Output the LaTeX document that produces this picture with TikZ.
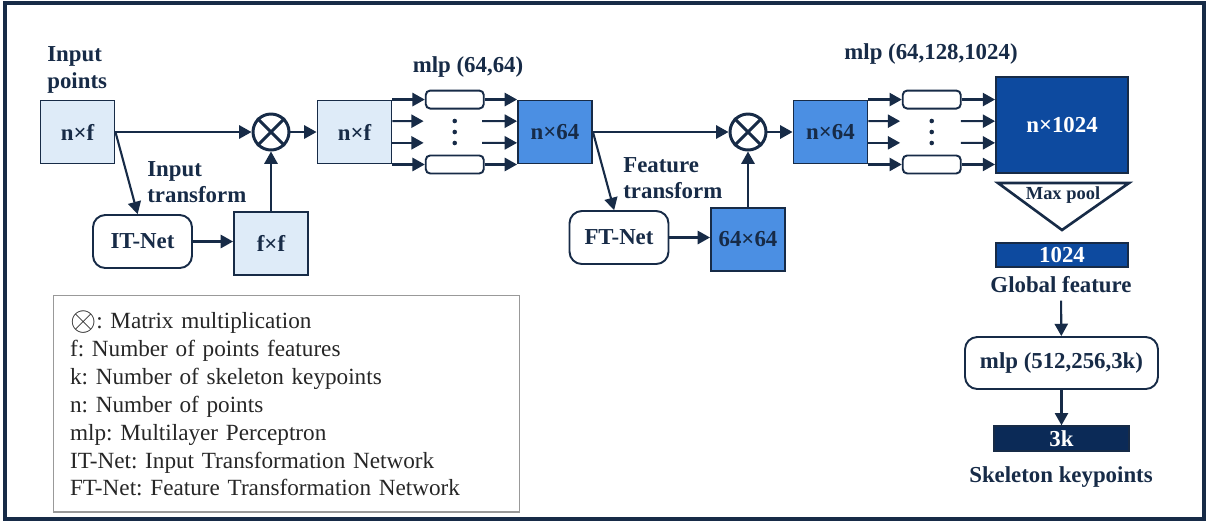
\documentclass[tikz,border=0pt]{standalone}
\usepackage{fontspec}
\setmainfont{Liberation Serif}[BoldFont={Liberation Serif Bold}]
\usetikzlibrary{arrows.meta,calc}
\definecolor{navy}{HTML}{172B47}
\definecolor{lightblue}{HTML}{DEEBF8}
\definecolor{midblue}{HTML}{4B8FE3}
\definecolor{darkblue}{HTML}{0D4A9F}
\definecolor{deepblue}{HTML}{0B2A57}
\frenchspacing

\begin{document}
\begin{tikzpicture}[x=0.02cm,y=-0.02cm,
    txt/.style={font=\bfseries\fontsize{13}{15}\selectfont, text=navy},
    lbl/.style={txt, inner sep=0pt, align=left},
    mat/.style={txt, draw=navy, line width=1.1pt, minimum width=1.48cm, minimum height=1.26cm, inner sep=0pt},
    net/.style={txt, draw=navy, line width=1.1pt, rounded corners=7pt, minimum width=1.98cm, minimum height=1.06cm},
    unit/.style={draw=navy, fill=white, line width=1.1pt, rounded corners=2.5pt, minimum width=1.16cm, minimum height=0.36cm, inner sep=0pt},
    mult/.style={circle, draw=navy, line width=1.7pt, minimum size=0.72cm, inner sep=0pt},
    vec/.style={txt, text=white, draw=navy, line width=0.8pt, minimum width=2.64cm, minimum height=0.48cm, inner sep=0pt},
    arr/.style={draw=navy, line width=1.2pt, -{Triangle[length=7pt,width=7.5pt]}}]
\useasboundingbox (0,0) rectangle (1211,529);
\draw[navy, line width=1.8pt] (5,3) rectangle (1204,519);

% input transform part
\node[lbl, anchor=west] (inlbl) at (47,70) {Input\\points};
\node[mat, fill=lightblue] (pts) at (77.5,132) {n×f};
\node[mult] (mul1) at (271,132) {};
\draw[navy, line width=1.7pt] (mul1.45) -- (mul1.225) (mul1.135) -- (mul1.315);
\node[mat, fill=lightblue] (nf) at (354.5,132) {n×f};
\node[net] (itnet) at (142.5,241.5) {IT-Net};
\node[mat, fill=lightblue] (ff) at (271,243.5) {f×f};
\node[lbl, anchor=west] (itlbl) at (147,182) {Input\\transform};
\draw[arr] (pts) -- (mul1);
\draw[arr] (mul1) -- (nf);
\draw[arr] (pts.east) -- (itnet.100);
\draw[arr] (itnet.east) -- (itnet.east -| ff.west);
\draw[arr] (ff) -- (mul1);

% first mlp
\node[lbl] (mlp1) at (468,67) {mlp (64,64)};
\node[mat, fill=midblue] (nsf) at (555,132) {n×64};
\foreach \t [count=\i] in {0,0.333,0.667,1} {
  \coordinate (a\i) at ($(nf.north east)!\t!(nf.south east)$);
  \coordinate (b\i) at (a\i -| nsf.west);
}
\foreach \i in {1,4} {
  \node[unit] (u\i) at ($(a\i)!0.5!(b\i)$) {};
  \draw[arr] (a\i) -- (u\i);
  \draw[arr] (u\i) -- (b\i);
}
\foreach \i in {2,3} {
  \coordinate (c\i) at ($(a\i)!0.25!(b\i)$);
  \coordinate (d\i) at ($(a\i)!0.72!(b\i)$);
  \draw[arr] (a\i) -- (c\i);
  \draw[arr] (d\i) -- (b\i);
}
\foreach \d in {-11,0,11} \fill[navy] ($(u1)!0.5!(u4)+(0,\d)$) circle (1.3pt);

% feature transform part
\node[mult] (mul2) at (748,132) {};
\draw[navy, line width=1.7pt] (mul2.45) -- (mul2.225) (mul2.135) -- (mul2.315);
\node[mat, fill=midblue] (nsf2) at (830.5,132) {n×64};
\node[net] (ftnet) at (619,237.5) {FT-Net};
\node[mat, fill=midblue] (tf) at (748,239.5) {64×64};
\node[lbl, anchor=west] (ftlbl) at (623,178) {Feature\\transform};
\draw[arr] (nsf) -- (mul2);
\draw[arr] (mul2) -- (nsf2);
\draw[arr] (nsf.east) -- (ftnet.100);
\draw[arr] (ftnet.east) -- (ftnet.east -| tf.west);
\draw[arr] (tf) -- (mul2);

% second mlp
\node[lbl] (mlp2) at (931,54) {mlp (64,128,1024)};
\node[mat, fill=darkblue, text=white, minimum width=2.64cm, minimum height=1.92cm] (big) at (1062,125) {n×1024};
\foreach \t [count=\i] in {0,0.333,0.667,1} {
  \coordinate (p\i) at ($(nsf2.north east)!\t!(nsf2.south east)$);
  \coordinate (q\i) at (p\i -| big.west);
}
\foreach \i in {1,4} {
  \node[unit] (v\i) at ($(p\i)!0.5!(q\i)$) {};
  \draw[arr] (p\i) -- (v\i);
  \draw[arr] (v\i) -- (q\i);
}
\foreach \i in {2,3} {
  \coordinate (r\i) at ($(p\i)!0.25!(q\i)$);
  \coordinate (s\i) at ($(p\i)!0.73!(q\i)$);
  \draw[arr] (p\i) -- (r\i);
  \draw[arr] (s\i) -- (q\i);
}
\foreach \d in {-11,0,11} \fill[navy] ($(v1)!0.5!(v4)+(0,\d)$) circle (1.3pt);

% pooling and head
\draw[navy, line width=1.5pt] (998,183) -- (1129,183) -- (1062,230) -- cycle;
\node[lbl, font=\bfseries\fontsize{10.5}{12}\selectfont] (pool) at (1063,195) {Max pool};
\node[vec, fill=darkblue] (glob) at (1062,255) {1024};
\node[lbl] (globlbl) at (1061,285) {Global feature};
\node[net, minimum width=3.86cm, minimum height=1.04cm] (mlp3) at (1061.5,363) {mlp (512,256,3k)};
\node[vec, fill=deepblue, minimum width=2.7cm, minimum height=0.5cm] (kp) at (1061.5,438.5) {3k};
\node[lbl] (kplbl) at (1061,477) {Skeleton keypoints};
\draw[arr, shorten <=4pt] (globlbl) -- (mlp3);
\draw[arr] (mlp3) -- (kp);

% legend
\node[draw=gray!80, line width=0.6pt, minimum width=9.34cm, minimum height=4.34cm,
  text width=8.66cm, inner xsep=0.34cm, align=left,
  font=\fontsize{13.2}{15.9}\selectfont, text=black!85] (legend) at (286.5,403.5)
  {\raisebox{-1.2pt}{\scalebox{1.6}{$\otimes$}}: Matrix multiplication\\
   f: Number of points features\\
   k: Number of skeleton keypoints\\
   n: Number of points\\
   mlp: Multilayer Perceptron\\
   IT-Net: Input Transformation Network\\
   FT-Net: Feature Transformation Network};
\end{tikzpicture}
\end{document}
